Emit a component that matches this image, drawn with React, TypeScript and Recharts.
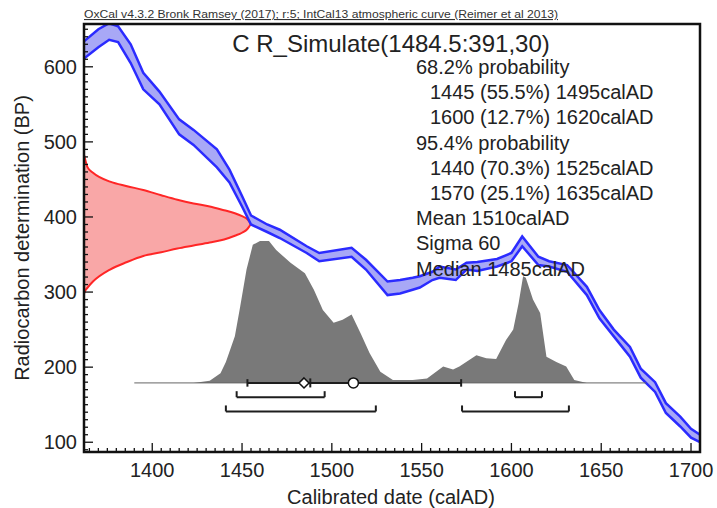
import React from 'react';
import {
  ComposedChart,
  Area,
  XAxis,
  YAxis,
  ReferenceLine,
  ReferenceDot,
  ReferenceArea,
} from 'recharts';

const FONT = '"Liberation Sans", Arial, Helvetica, sans-serif';
const W = 717;
const H = 508;
const X_DOMAIN: [number, number] = [1362, 1705];
const Y_DOMAIN: [number, number] = [87, 657];

// Calibration curve (IntCal13) band
const curveYears = [1362, 1370, 1376, 1381, 1388, 1395, 1404, 1415, 1423, 1436, 1443, 1450, 1455, 1464, 1471, 1486, 1493, 1511, 1519, 1531, 1538, 1545, 1549, 1556, 1560, 1569, 1575, 1581, 1592, 1600, 1606, 1615, 1621, 1631, 1642, 1649, 1657, 1666, 1672, 1680, 1686, 1694, 1700, 1705];
const curveHigh = [634, 650, 658, 654, 630, 592, 567, 530, 516, 490, 463, 428, 402, 390, 383, 361, 352, 359, 343, 314, 316, 319, 321, 327, 334, 330, 339, 340, 344, 352, 374, 347, 341, 336, 307, 276, 250, 227, 198, 180, 152, 134, 118, 110];
const curveLow = [611, 626, 636, 633, 605, 570, 550, 510, 496, 466, 446, 414, 390, 380, 372, 352, 341, 347, 330, 296, 298, 303, 306, 316, 319, 316, 330, 328, 334, 341, 361, 336, 334, 327, 296, 265, 241, 214, 186, 167, 139, 121, 106, 100];

// Calibrated probability distribution (drawn above baseline 179 BP)
const probBase = 179;
const probYears = [1390, 1423, 1432, 1438, 1441, 1446, 1449, 1452.5, 1456, 1460, 1465, 1469, 1477, 1485, 1490, 1495, 1501, 1506, 1511, 1516, 1521, 1527, 1534, 1545, 1553, 1562, 1567.5, 1571, 1580.5, 1586, 1591.5, 1597, 1601, 1604, 1606.5, 1608, 1612, 1616, 1619.5, 1625, 1630.5, 1635, 1642, 1675];
const probTop = [179, 179, 182, 192, 207, 241, 281, 330, 363, 368, 368, 356, 339, 325, 303, 276, 259, 263, 270, 245, 219, 194, 183, 183, 185, 201, 197, 201, 216, 212, 211, 236, 250, 285, 321, 319, 290, 272, 214, 207, 201, 183, 179, 179];

// Radiocarbon measurement distribution (391 ± 30 BP), drawn from the left axis
const rcYears = [1362, 1362.5, 1364, 1367, 1376.5, 1386, 1395, 1405, 1414, 1423, 1432, 1440, 1446, 1450, 1453, 1455];
const rcUpper = [483, 478, 466, 459, 447, 441, 436, 429, 423, 418, 414, 409, 405, 401, 397, 391];
const rcLower = [298, 301, 306, 314, 330, 340, 348, 353, 358, 362, 366, 370, 375, 379, 384, 391];

// Summary bars
const meanSigmaRange = [1453, 1572];
const meanValue = 1512;
const medianValue = 1484.5;
const markValue = 1488;
const range68 = [[1447, 1496], [1602, 1617]];
const range95 = [[1441, 1524.5], [1572.5, 1632]];

// Axis ticks
const majorX = [1400, 1450, 1500, 1550, 1600, 1650, 1700];
const majorY = [100, 200, 300, 400, 500, 600];
const xTicks: number[] = [];
for (let v = 1365; v <= 1705; v += 5) xTicks.push(v);
const yTicks: number[] = [];
for (let v = 90; v <= 650; v += 10) yTicks.push(v);

const infoLines = [
  { text: '68.2% probability', indent: false },
  { text: '1445 (55.5%) 1495calAD', indent: true },
  { text: '1600 (12.7%) 1620calAD', indent: true },
  { text: '95.4% probability', indent: false },
  { text: '1440 (70.3%) 1525calAD', indent: true },
  { text: '1570 (25.1%) 1635calAD', indent: true },
  { text: 'Mean 1510calAD', indent: false },
  { text: 'Sigma 60', indent: false },
  { text: 'Median 1485calAD', indent: false },
];

const curveData = curveYears.map((year, i) => ({ year, band: [curveLow[i], curveHigh[i]] }));
const probData = probYears.map((year, i) => ({ year, p: probTop[i] }));
const rcData = rcYears.map((year, i) => ({ year, r: [rcLower[i], rcUpper[i]] }));

const XTick = (props: any) => {
  const { x, y, payload } = props;
  const v = payload.value;
  const major = majorX.includes(v);
  return (
    <g>
      <line x1={x} x2={x} y1={y} y2={y - (major ? 9 : 4)} stroke="#111" strokeWidth={1.3} />
      {major && (
        <text x={x} y={y + 25} textAnchor="middle" fontSize={20} fill="#222" fontFamily={FONT}>
          {v}
        </text>
      )}
    </g>
  );
};

const YTick = (props: any) => {
  const { x, y, payload } = props;
  const v = payload.value;
  const major = majorY.includes(v);
  return (
    <g>
      <line x1={x} x2={x + (major ? 9 : 4)} y1={y} y2={y} stroke="#111" strokeWidth={1.3} />
      {major && (
        <text x={x - 7} y={y + 7} textAnchor="end" fontSize={20} fill="#222" fontFamily={FONT}>
          {v}
        </text>
      )}
    </g>
  );
};

const Diamond = (p: any) => (
  <path
    d={`M${p.cx} ${p.cy - 5} L${p.cx + 5} ${p.cy} L${p.cx} ${p.cy + 5} L${p.cx - 5} ${p.cy} Z`}
    fill="#fff"
    stroke="#111"
    strokeWidth={1.5}
  />
);

const BAR = '#1e1e1e';

function bracket(r: number[], yb: number, yt: number, key: string) {
  return [
    <ReferenceLine key={key + 'h'} segment={[{ x: r[0], y: yb }, { x: r[1], y: yb }]} stroke={BAR} strokeWidth={2} ifOverflow="visible" />,
    <ReferenceLine key={key + 'l'} segment={[{ x: r[0], y: yb }, { x: r[0], y: yt }]} stroke={BAR} strokeWidth={2} ifOverflow="visible" />,
    <ReferenceLine key={key + 'r'} segment={[{ x: r[1], y: yb }, { x: r[1], y: yt }]} stroke={BAR} strokeWidth={2} ifOverflow="visible" />,
  ];
}

export default function App() {
  return (
    <div style={{ position: 'fixed', left: 0, top: 0, width: W, height: H, background: '#fff' }}>
      <div style={{ position: 'absolute', left: 0, top: 0 }}>
        <ComposedChart width={W} height={H} margin={{ top: 24, right: 17, bottom: 0, left: 0 }}>
          <XAxis
            type="number"
            dataKey="year"
            domain={X_DOMAIN}
            ticks={xTicks}
            interval={0}
            tick={<XTick />}
            tickLine={false}
            axisLine={false}
            tickSize={0}
            tickMargin={0}
            height={56}
            allowDataOverflow
          />
          <YAxis
            type="number"
            domain={Y_DOMAIN}
            ticks={yTicks}
            interval={0}
            tick={<YTick />}
            tickLine={false}
            axisLine={false}
            tickSize={0}
            tickMargin={0}
            width={84}
            allowDataOverflow
          />
          <Area
            data={rcData}
            dataKey="r"
            type="monotone"
            stroke="#ff2626"
            strokeWidth={2}
            fill="#f9a7a7"
            fillOpacity={1}
            isAnimationActive={false}
          />
          <Area
            data={curveData}
            dataKey="band"
            type="linear"
            stroke="#2b2bff"
            strokeWidth={2.5}
            fill="#a8a8f6"
            fillOpacity={1}
            isAnimationActive={false}
          />
          <Area
            data={probData}
            dataKey="p"
            baseValue={probBase}
            type="linear"
            stroke="none"
            fill="#797979"
            fillOpacity={1}
            isAnimationActive={false}
          />
          <ReferenceLine segment={[{ x: 1390, y: probBase }, { x: 1675, y: probBase }]} stroke="#666" strokeWidth={1} />
          <ReferenceLine segment={[{ x: meanSigmaRange[0], y: probBase }, { x: meanSigmaRange[1], y: probBase }]} stroke={BAR} strokeWidth={2} />
          <ReferenceLine segment={[{ x: meanSigmaRange[0], y: probBase - 5 }, { x: meanSigmaRange[0], y: probBase + 5 }]} stroke={BAR} strokeWidth={2} />
          <ReferenceLine segment={[{ x: meanSigmaRange[1], y: probBase - 5 }, { x: meanSigmaRange[1], y: probBase + 5 }]} stroke={BAR} strokeWidth={2} />
          <ReferenceLine segment={[{ x: markValue, y: probBase - 6 }, { x: markValue, y: probBase + 6 }]} stroke={BAR} strokeWidth={2} />
          {range68.flatMap((r, i) => bracket(r, 160, 168, 'a' + i))}
          {range95.flatMap((r, i) => bracket(r, 141, 149, 'b' + i))}
          <ReferenceDot x={medianValue} y={probBase} r={5} shape={Diamond} />
          <ReferenceDot x={meanValue} y={probBase} r={5} fill="#fff" stroke="#111" strokeWidth={1.5} />
          <ReferenceArea
            x1={X_DOMAIN[0]}
            x2={X_DOMAIN[1]}
            y1={Y_DOMAIN[0]}
            y2={Y_DOMAIN[1]}
            fill="none"
            fillOpacity={0}
            stroke="#111"
            strokeWidth={2.5}
            ifOverflow="visible"
          />
        </ComposedChart>
      </div>
      <svg width={W} height={H} style={{ position: 'absolute', left: 0, top: 0 }} fontFamily={FONT}>
        <text
          x={84}
          y={18}
          fontSize={11}
          fill="#333"
          textLength={474}
          lengthAdjust="spacingAndGlyphs"
          textDecoration="underline"
        >
          OxCal v4.3.2 Bronk Ramsey (2017); r:5; IntCal13 atmospheric curve (Reimer et al 2013)
        </text>
        <text x={391} y={52} fontSize={24} fill="#222" textAnchor="middle">
          C R_Simulate(1484.5:391,30)
        </text>
        {infoLines.map((l, i) => (
          <text key={i} x={l.indent ? 430 : 416} y={74 + 25.2 * i} fontSize={20} fill="#222">
            {l.text}
          </text>
        ))}
        <text x={391} y={504} fontSize={20} fill="#222" textAnchor="middle">
          Calibrated date (calAD)
        </text>
        <text x={0} y={0} fontSize={20} fill="#222" textAnchor="middle" transform="translate(29 238) rotate(-90)">
          Radiocarbon determination (BP)
        </text>
      </svg>
    </div>
  );
}
